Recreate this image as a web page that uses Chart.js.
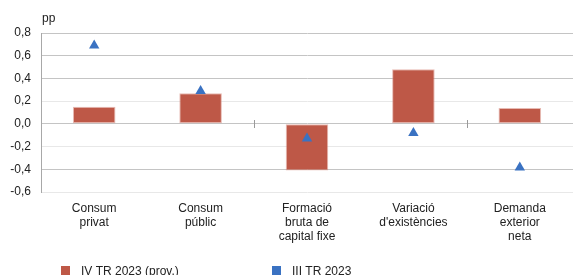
<!DOCTYPE html>
<html>
<head>
<meta charset="utf-8">
<script src="https://cdn.jsdelivr.net/npm/chart.js@4/dist/chart.umd.min.js"></script>
<style>
html,body{margin:0;padding:0;overflow:hidden;background:#fff;}
#wrap{position:absolute;left:0;top:0;width:579px;height:275px;}
</style>
</head>
<body>
<div id="wrap"><canvas id="c"></canvas></div>
<script>
const categories = [
  ["Consum", "privat"],
  ["Consum", "públic"],
  ["Formació", "bruta de", "capital fixe"],
  ["Variació", "d'existències"],
  ["Demanda", "exterior", "neta"]
];
const seriesNames = ["IV TR 2023 (prov.)", "III TR 2023"];
const ivTr2023 = [0.15, 0.27, -0.41, 0.48, 0.14];
const iiiTr2023 = [0.69, 0.29, -0.13, -0.08, -0.385];
const yTicks = [0.8, 0.6, 0.4, 0.2, 0.0, -0.2, -0.4, -0.6];
const unitLabel = "pp";

const FONT = "'Liberation Sans', Arial, sans-serif";
const RED = "#BE5847";
const BLUE = "#3A72C2";

const extras = {
  id: 'extras',
  afterDraw(chart) {
    const ctx = chart.ctx;
    const x = chart.scales.x, y = chart.scales.y;
    const ca = chart.chartArea;
    ctx.save();
    ctx.font = "12px " + FONT;
    ctx.fillStyle = "#222";
    ctx.textBaseline = "alphabetic";
    ctx.textAlign = "left";
    ctx.fillText(unitLabel, ca.left + 1, 22);
    const y0 = Math.round(y.getPixelForValue(0));
    ctx.strokeStyle = "#9a9a9a";
    ctx.lineWidth = 1;
    [1, 3].forEach(i => {
      const px = Math.round((x.getPixelForValue(i) + x.getPixelForValue(i + 1)) / 2) + 0.5;
      ctx.beginPath();
      ctx.moveTo(px, y0 - 4);
      ctx.lineTo(px, y0 + 4);
      ctx.stroke();
    });
    const items = [
      {label: chart.data.datasets[1].label, color: RED, bx: 61, tx: 81},
      {label: chart.data.datasets[0].label, color: BLUE, bx: 272, tx: 292}
    ];
    items.forEach(it => {
      ctx.fillStyle = it.color;
      ctx.fillRect(it.bx, 266, 9, 9);
      ctx.fillStyle = "#222";
      ctx.fillText(it.label, it.tx, 275);
    });
    ctx.restore();
  }
};

new Chart(document.getElementById('c'), {
  type: 'bar',
  data: {
    labels: categories,
    datasets: [
      {
        type: 'line',
        label: seriesNames[1],
        data: iiiTr2023,
        showLine: false,
        pointStyle: 'triangle',
        pointRadius: 6,
        pointHoverRadius: 6,
        pointBackgroundColor: BLUE,
        pointBorderColor: BLUE,
        pointBorderWidth: 0,
        order: 1
      },
      {
        type: 'bar',
        label: seriesNames[0],
        data: ivTr2023,
        backgroundColor: RED,
        borderColor: "rgba(215,140,128,0.6)",
        borderWidth: 1,
        borderSkipped: false,
        categoryPercentage: 1,
        barPercentage: 0.4,
        order: 2
      }
    ]
  },
  options: {
    responsive: true,
    maintainAspectRatio: false,
    animation: false,
    events: [],
    layout: {padding: {top: 33, right: 0, bottom: 0, left: 0}},
    plugins: {legend: {display: false}, tooltip: {enabled: false}},
    scales: {
      x: {
        grid: {display: false, drawTicks: false},
        border: {display: false},
        ticks: {
          color: "#222",
          font: {family: FONT, size: 12, lineHeight: 1.2},
          padding: 9,
          maxRotation: 0,
          autoSkip: false
        },
        afterFit(s) { s.height = 83; }
      },
      y: {
        min: -0.6,
        max: 0.8,
        afterBuildTicks(s) { s.ticks = yTicks.map(v => ({value: v})); },
        grid: {
          drawTicks: false,
          color(c) {
            const v = Math.round(c.tick.value * 10) / 10;
            return (v === 0.2 || v === -0.2 || v === -0.6) ? "#e8e8e8" : "#c4c4c4";
          }
        },
        border: {display: true, color: "#a8a8a8"},
        ticks: {
          color: "#222",
          font: {family: FONT, size: 12},
          padding: 10,
          callback(v) { return v.toFixed(1).replace('.', ','); }
        },
        afterFit(s) { s.width = 41; }
      }
    }
  },
  plugins: [extras]
});
</script>
</body>
</html>
